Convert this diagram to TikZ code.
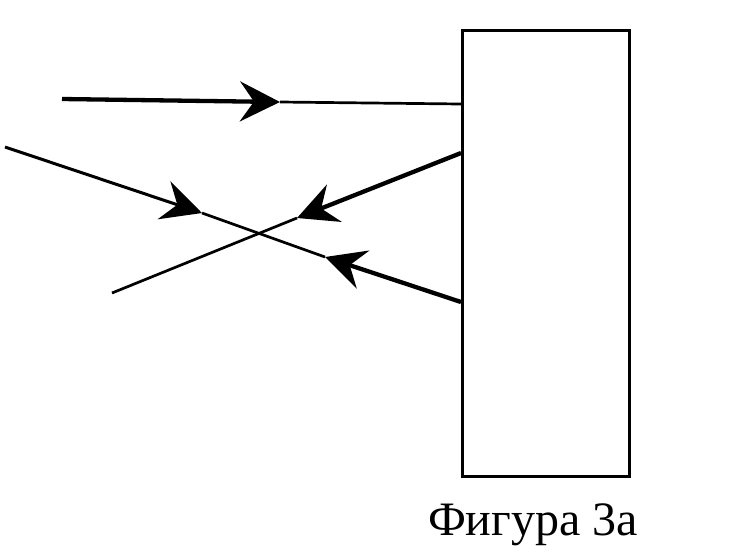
\documentclass[tikz,border=0pt]{standalone}
\usepackage{fontspec}
\setmainfont{Liberation Serif}
\usetikzlibrary{arrows.meta}
\begin{document}
\begin{tikzpicture}[x=1pt,y=-1pt,
  ray/.style={line width=2.7pt},
  thickray/.style={line width=4.3pt},
  head/.style={-{Stealth[length=40pt,width=40pt,inset=14pt]}},
  box/.style={draw,line width=3pt}]
\useasboundingbox (0,0) rectangle (745,558);
\node[box,minimum width=167pt,minimum height=446pt,anchor=north west,inner sep=0pt] (mirror) at (461,29) {};
\coordinate (a0) at (62,99);
\coordinate (a1) at (280,102);
\coordinate (a2) at (461,104);
\coordinate (b0) at (5,147);
\coordinate (b1) at (202,213);
\coordinate (b2) at (325,257);
\coordinate (b3) at (461,302);
\coordinate (c0) at (461,153);
\coordinate (c1) at (297,218);
\coordinate (c2) at (112,293);
\draw[thickray,head] (a0) -- (a1);
\draw[ray] (a1) -- (a2);
\draw[ray,line width=3pt,head] (b0) -- (b1);
\draw[ray] (b1) -- (b2);
\draw[thickray,head] (b3) -- (b2);
\draw[thickray,head] (c0) -- (c1);
\draw[ray] (c1) -- (c2);
\node[anchor=base,font=\fontsize{48}{52}\selectfont,inner sep=0pt] (cap) at (533,535) {Фигура 3а};
\end{tikzpicture}
\end{document}
